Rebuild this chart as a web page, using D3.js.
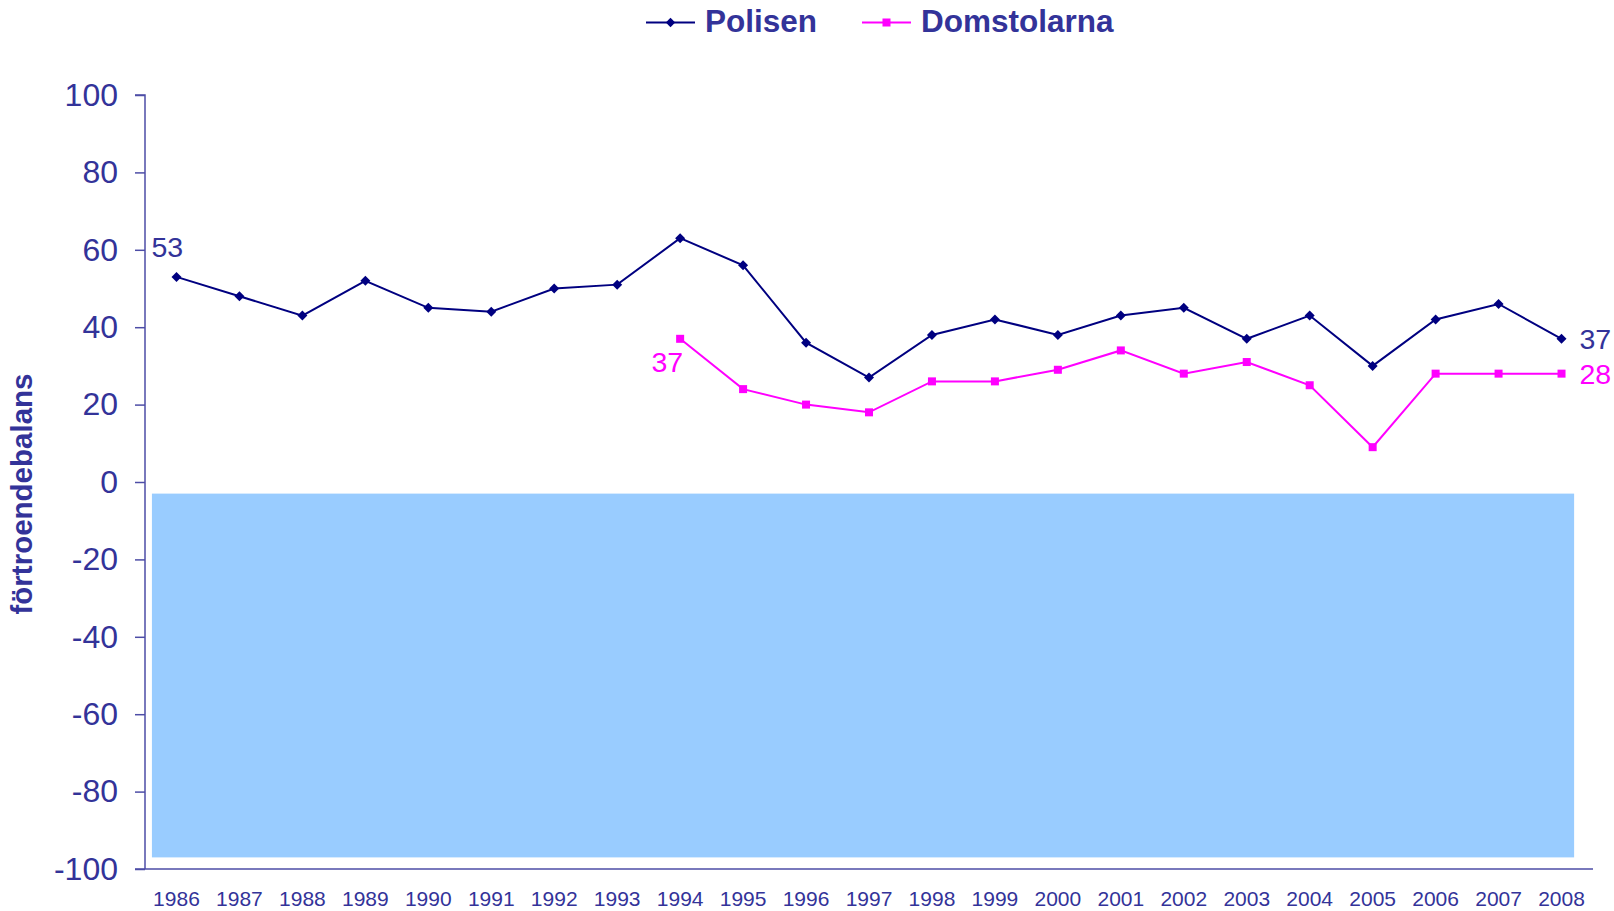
<!DOCTYPE html>
<html>
<head>
<meta charset="utf-8">
<script src="https://cdn.jsdelivr.net/npm/d3@7"></script>
<style>
  html, body { margin: 0; padding: 0; background: #fff; }
  svg { display: block; font-family: "Liberation Sans", Arial, sans-serif; }
</style>
</head>
<body>
<svg id="chart" width="1614" height="911"></svg>
<script>
const years = ["1986","1987","1988","1989","1990","1991","1992","1993","1994","1995","1996","1997","1998","1999","2000","2001","2002","2003","2004","2005","2006","2007","2008"];
const polisen = [53,48,43,52,45,44,50,51,63,56,36,27,38,42,38,43,45,37,43,30,42,46,37];
const domstolarna = [null,null,null,null,null,null,null,null,37,24,20,18,26,26,29,34,28,31,25,9,28,28,28];
const yTicks = [100,80,60,40,20,0,-20,-40,-60,-80,-100];
const shadeRange = [-97, -3];
const seriesNames = ["Polisen", "Domstolarna"];

const textColor = "#333399";
const colP = "#000080";
const colD = "#ff00ff";

const svg = d3.select("#chart");
const margin = {left: 145, right: 21, top: 95, bottom: 42};
const W = 1614, H = 911;

const x = d3.scaleBand().domain(years).range([margin.left, W - margin.right]).padding(0);
const y = d3.scaleLinear().domain([-100, 100]).range([H - margin.bottom, margin.top]);
const cx = d => x(d) + x.bandwidth() / 2;

// shaded background
const shadeL = cx(years[0]) - x.bandwidth() * 0.39;
const shadeR = cx(years[years.length - 1]) + x.bandwidth() * 0.2;
svg.append("rect")
  .attr("x", shadeL)
  .attr("width", shadeR - shadeL)
  .attr("y", y(shadeRange[1]))
  .attr("height", y(shadeRange[0]) - y(shadeRange[1]))
  .attr("fill", "#99ccff");

// y axis
const yAxis = svg.append("g")
  .attr("transform", `translate(${margin.left},0)`)
  .call(d3.axisLeft(y).tickValues(yTicks).tickSize(10).tickPadding(17).tickFormat(d3.format("d")));
yAxis.select(".domain").attr("stroke", "#4d4da6").attr("stroke-width", 1.5).attr("d", `M-10,${y(100)}H0V${y(-100)}`);
yAxis.selectAll(".tick line").attr("stroke", "#4d4da6").attr("stroke-width", 1.5);
yAxis.selectAll(".tick text").attr("fill", textColor).style("font-size", "32px")
  .text(d => d < 0 ? "-" + Math.abs(d) : d);

// x axis
const xAxis = svg.append("g")
  .attr("transform", `translate(0,${y(-100)})`)
  .call(d3.axisBottom(x).tickSize(0).tickPadding(22));
xAxis.select(".domain").attr("stroke", "#4d4da6").attr("stroke-width", 1.5).attr("d", `M${margin.left - 10},0H${W - margin.right}`);
xAxis.selectAll(".tick text").attr("fill", textColor).style("font-size", "21px");

// y axis title
svg.append("text")
  .attr("transform", `translate(32,${(y(100) + y(-100)) / 2 + 12}) rotate(-90)`)
  .attr("text-anchor", "middle")
  .attr("fill", textColor)
  .style("font-size", "29.5px")
  .style("font-weight", "bold")
  .text("förtroendebalans");

// lines
const lineGen = d3.line()
  .defined(d => d.v !== null)
  .x(d => cx(d.year))
  .y(d => y(d.v));

const pData = years.map((yr, i) => ({year: yr, v: polisen[i]}));
const dData = years.map((yr, i) => ({year: yr, v: domstolarna[i]})).filter(d => d.v !== null);

svg.append("path").datum(dData).attr("d", lineGen).attr("fill", "none").attr("stroke", colD).attr("stroke-width", 2);
svg.append("path").datum(pData).attr("d", lineGen).attr("fill", "none").attr("stroke", colP).attr("stroke-width", 2);

svg.selectAll(".sq").data(dData).enter().append("rect")
  .attr("x", d => cx(d.year) - 4).attr("y", d => y(d.v) - 4)
  .attr("width", 8).attr("height", 8).attr("fill", colD);

svg.selectAll(".dm").data(pData).enter().append("path")
  .attr("transform", d => `translate(${cx(d.year)},${y(d.v)}) rotate(45)`)
  .attr("d", d3.symbol().type(d3.symbolSquare).size(50))
  .attr("fill", colP);

// data labels
const first = pData[0], lastP = pData[pData.length - 1];
const firstD = dData[0], lastD = dData[dData.length - 1];
svg.append("text").attr("x", cx(first.year) - 25).attr("y", y(first.v) - 20)
  .attr("fill", textColor).style("font-size", "28.5px").text(first.v);
svg.append("text").attr("x", cx(firstD.year) + 3).attr("y", y(firstD.v) + 33)
  .attr("text-anchor", "end").attr("fill", colD).style("font-size", "28.5px").text(firstD.v);
svg.append("text").attr("x", cx(lastP.year) + 18).attr("y", y(lastP.v) + 10)
  .attr("fill", textColor).style("font-size", "28.5px").text(lastP.v);
svg.append("text").attr("x", cx(lastD.year) + 18).attr("y", y(lastD.v) + 10)
  .attr("fill", colD).style("font-size", "28.5px").text(lastD.v);

// legend
const legend = svg.append("g");
const legItems = [
  {name: seriesNames[0], color: colP, type: "diamond", x0: 646, x1: 695, tx: 705},
  {name: seriesNames[1], color: colD, type: "square", x0: 862, x1: 911, tx: 921}
];
const legY = 22.5;
legItems.forEach(it => {
  legend.append("line").attr("x1", it.x0).attr("x2", it.x1).attr("y1", legY).attr("y2", legY)
    .attr("stroke", it.color).attr("stroke-width", 2);
  const mx = (it.x0 + it.x1) / 2;
  if (it.type === "diamond") {
    legend.append("path").attr("transform", `translate(${mx},${legY}) rotate(45)`)
      .attr("d", d3.symbol().type(d3.symbolSquare).size(44)).attr("fill", it.color);
  } else {
    legend.append("rect").attr("x", mx - 4).attr("y", legY - 4).attr("width", 8).attr("height", 8).attr("fill", it.color);
  }
  legend.append("text").attr("x", it.tx).attr("y", 32).attr("fill", textColor)
    .style("font-size", "31.5px").style("font-weight", "bold").text(it.name);
});
</script>
</body>
</html>
